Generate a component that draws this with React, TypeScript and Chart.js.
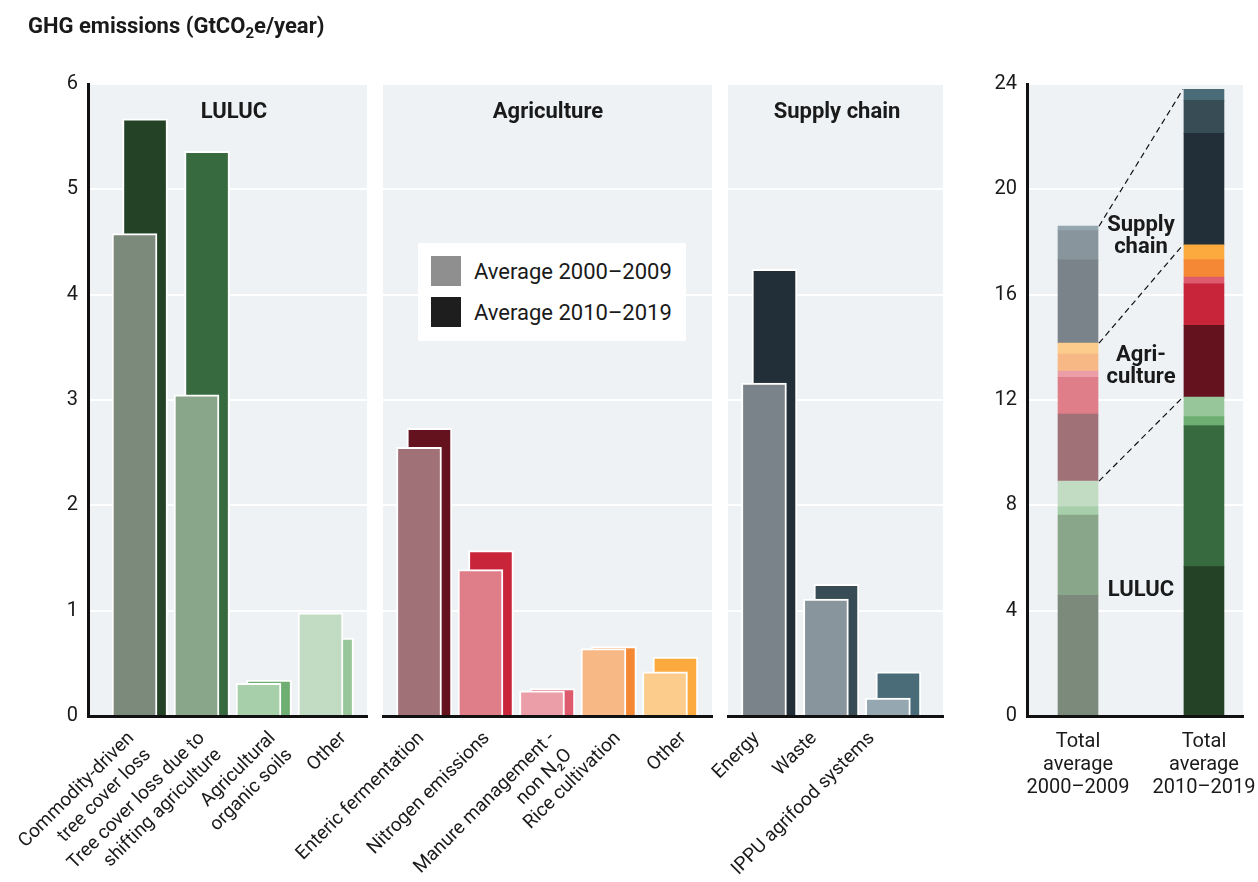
import React, { useEffect, useRef } from 'react';
import { Chart, registerables } from 'chart.js';

Chart.register(...registerables);

const FONT = "Roboto, 'Noto Sans', 'DejaVu Sans', sans-serif";
const INK = '#1a1a1a';
const PANEL_BG = '#eef2f5';

// ---------- data ----------
const lulucLabels: (string | string[])[] = [
  ['Commodity-driven', 'tree cover loss'],
  ['Tree cover loss due to', 'shifting agriculture'],
  ['Agricultural', 'organic soils'],
  'Other',
];
const luluc2000 = [4.58, 3.05, 0.31, 0.98];
const luluc2010 = [5.67, 5.36, 0.34, 0.74];

const agriLabels: (string | string[])[] = [
  'Enteric fermentation',
  'Nitrogen emissions',
  ['Manure management -', 'non N₂O'],
  'Rice cultivation',
  'Other',
];
const agri2000 = [2.55, 1.39, 0.24, 0.64, 0.42];
const agri2010 = [2.73, 1.57, 0.26, 0.66, 0.56];

const supplyLabels: (string | string[])[] = ['Energy', 'Waste', 'IPPU agrifood systems'];
const supply2000 = [3.16, 1.11, 0.17];
const supply2010 = [4.24, 1.25, 0.42];

const totalLabels: string[][] = [
  ['Total', 'average', '2000–2009'],
  ['Total', 'average', '2010–2019'],
];

const panelTitles = ['LULUC', 'Agriculture', 'Supply chain'];
const legendLabels = ['Average 2000–2009', 'Average 2010–2019'];

// ---------- colours ----------
const lulucLight = ['#7c8a7b', '#89a68a', '#a7cfa9', '#c1dcc3'];
const lulucDark = ['#244226', '#386a40', '#6eae72', '#96c69a'];
const agriLight = ['#a07278', '#df7d89', '#eb9ea7', '#f8b886', '#fccc8c'];
const agriDark = ['#65121f', '#c8243a', '#de5b6e', '#f48834', '#fca93e'];
const supplyLight = ['#7b838a', '#89959c', '#95a8b1'];
const supplyDark = ['#232f38', '#384c55', '#4a6b78'];

// ---------- layout ----------
const W = 1258;
const H = 882;
const PLOT_TOP = 84;
const AXIS_H = 166;
const DARK_SHIFT = 0.17;

type PanelSpec = {
  labels: (string | string[])[];
  v2000: number[];
  v2010: number[];
  light: string[];
  dark: string[];
  left: number;
  right: number;
  xMin: number;
  xMax: number;
  labelStart: number;
  labelStep: number;
  showY: boolean;
};

const panelBg = {
  id: 'panelBg',
  beforeDraw(chart: any) {
    const { ctx, chartArea: a } = chart;
    ctx.save();
    ctx.fillStyle = PANEL_BG;
    ctx.fillRect(a.left, a.top, a.right - a.left, a.bottom - a.top);
    ctx.restore();
  },
};

function panelConfig(p: PanelSpec): any {
  return {
    type: 'bar',
    data: {
      datasets: [
        {
          label: legendLabels[0],
          data: p.v2000.map((y, i) => ({ x: i, y })),
          backgroundColor: p.light,
          borderColor: '#ffffff',
          borderWidth: 2,
          barThickness: 45,
          grouped: false,
        },
        {
          label: legendLabels[1],
          data: p.v2010.map((y, i) => ({ x: i + DARK_SHIFT, y })),
          backgroundColor: p.dark,
          borderColor: '#ffffff',
          borderWidth: 2,
          barThickness: 45,
          grouped: false,
        },
      ],
    },
    options: {
      responsive: false,
      animation: false,
      devicePixelRatio: 1,
      layout: {
        padding: { left: p.showY ? 0 : p.left, right: W - p.right, top: PLOT_TOP, bottom: 0 },
      },
      plugins: { legend: { display: false }, tooltip: { enabled: false } },
      scales: {
        x: {
          type: 'linear',
          min: p.xMin,
          max: p.xMax,
          offset: false,
          grid: { display: false },
          border: { display: true, color: '#111111', width: 3, z: 1 },
          afterBuildTicks: (s: any) => {
            s.ticks = p.labels.map((_, i) => ({ value: p.labelStart + i * p.labelStep }));
          },
          afterFit: (s: any) => {
            s.height = AXIS_H;
            s.paddingLeft = 0;
            s.paddingRight = 0;
          },
          ticks: {
            autoSkip: false,
            maxRotation: 45,
            minRotation: 45,
            padding: 3,
            font: { family: FONT, size: 19, lineHeight: 1.25 },
            color: INK,
            callback: (_v: any, i: number) => p.labels[i],
          },
        },
        y: {
          min: 0,
          max: 6,
          ticks: {
            display: p.showY,
            stepSize: 1,
            padding: 10,
            font: { family: FONT, size: 20 },
            color: INK,
          },
          grid: { color: '#ffffff', lineWidth: 2, drawTicks: false },
          border: { display: p.showY, color: '#111111', width: 3, z: 1 },
          afterFit: (s: any) => {
            s.width = p.showY ? p.left : 0;
            s.paddingTop = 0;
            s.paddingBottom = 0;
          },
        },
      },
    },
    plugins: [panelBg],
  };
}

const allLight = [...lulucLight, ...agriLight, ...supplyLight];
const allDark = [...lulucDark, ...agriDark, ...supplyDark];
const all2000 = [...luluc2000, ...agri2000, ...supply2000];
const all2010 = [...luluc2010, ...agri2010, ...supply2010];
const groupEnds = [
  lulucLabels.length - 1,
  lulucLabels.length + agriLabels.length - 1,
  lulucLabels.length + agriLabels.length + supplyLabels.length - 1,
];

const connectors = {
  id: 'connectors',
  afterDatasetsDraw(chart: any) {
    const ctx = chart.ctx;
    ctx.save();
    ctx.setLineDash([6, 4]);
    ctx.lineWidth = 1.2;
    ctx.strokeStyle = '#111111';
    for (const k of groupEnds) {
      const meta = chart.getDatasetMeta(k);
      const a = meta.data[0].getProps(['x', 'y', 'width'], true);
      const b = meta.data[1].getProps(['x', 'y', 'width'], true);
      ctx.beginPath();
      ctx.moveTo(a.x + a.width / 2 + 1, a.y);
      ctx.lineTo(b.x - b.width / 2 - 1, b.y);
      ctx.stroke();
    }
    ctx.restore();
  },
};

function totalsConfig(): any {
  return {
    type: 'bar',
    data: {
      datasets: all2000.map((v, k) => ({
        label: String(k),
        data: [
          { x: 0, y: v },
          { x: 1, y: all2010[k] },
        ],
        backgroundColor: [allLight[k], allDark[k]],
        borderWidth: 0,
        barThickness: 40,
      })),
    },
    options: {
      responsive: false,
      animation: false,
      devicePixelRatio: 1,
      layout: { padding: { left: 960, right: W - 1243, top: PLOT_TOP, bottom: 0 } },
      plugins: { legend: { display: false }, tooltip: { enabled: false } },
      scales: {
        x: {
          type: 'linear',
          stacked: true,
          min: -0.405,
          max: 1.31,
          offset: false,
          grid: { display: false },
          border: { display: true, color: '#111111', width: 3, z: 1 },
          afterBuildTicks: (s: any) => {
            s.ticks = totalLabels.map((_, i) => ({ value: i }));
          },
          afterFit: (s: any) => {
            s.height = AXIS_H;
            s.paddingLeft = 0;
            s.paddingRight = 0;
          },
          ticks: {
            autoSkip: false,
            maxRotation: 0,
            minRotation: 0,
            padding: 6,
            font: { family: FONT, size: 20, lineHeight: 1.15 },
            color: INK,
            callback: (_v: any, i: number) => totalLabels[i],
          },
        },
        y: {
          stacked: true,
          min: 0,
          max: 24,
          ticks: { stepSize: 4, padding: 10, font: { family: FONT, size: 20 }, color: INK },
          grid: { color: '#ffffff', lineWidth: 2, drawTicks: false },
          border: { display: true, color: '#111111', width: 3, z: 1 },
          afterFit: (s: any) => {
            s.width = 67;
            s.paddingTop = 0;
            s.paddingBottom = 0;
          },
        },
      },
    },
    plugins: [panelBg, connectors],
  };
}

const panels: PanelSpec[] = [
  {
    labels: lulucLabels, v2000: luluc2000, v2010: luluc2010, light: lulucLight, dark: lulucDark,
    left: 88, right: 367, xMin: -0.75, xMax: 3.75, labelStart: -0.05, labelStep: 1.14, showY: true,
  },
  {
    labels: agriLabels, v2000: agri2000, v2010: agri2010, light: agriLight, dark: agriDark,
    left: 383, right: 712, xMin: -0.585, xMax: 4.765, labelStart: 0.04, labelStep: 1.065, showY: false,
  },
  {
    labels: supplyLabels, v2000: supply2000, v2010: supply2010, light: supplyLight, dark: supplyDark,
    left: 728, right: 943, xMin: -0.58, xMax: 2.89, labelStart: -0.12, labelStep: 0.93, showY: false,
  },
];

const canvasStyle: React.CSSProperties = { position: 'absolute', left: 0, top: 0 };

export default function App() {
  const r0 = useRef<HTMLCanvasElement>(null);
  const r1 = useRef<HTMLCanvasElement>(null);
  const r2 = useRef<HTMLCanvasElement>(null);
  const r3 = useRef<HTMLCanvasElement>(null);

  useEffect(() => {
    const charts: Chart[] = [];
    [r0, r1, r2].forEach((r, i) => {
      if (r.current) charts.push(new Chart(r.current, panelConfig(panels[i])));
    });
    if (r3.current) charts.push(new Chart(r3.current, totalsConfig()));
    return () => charts.forEach((c) => c.destroy());
  }, []);

  const txt: React.CSSProperties = { position: 'absolute', color: INK, whiteSpace: 'nowrap' };
  const titleCenters = [234, 548, 837];

  return (
    <div style={{ position: 'fixed', left: 0, top: 0, width: W, height: H, background: '#ffffff', fontFamily: FONT, overflow: 'hidden' }}>
      <canvas ref={r0} width={W} height={H} style={canvasStyle} />
      <canvas ref={r1} width={W} height={H} style={canvasStyle} />
      <canvas ref={r2} width={W} height={H} style={canvasStyle} />
      <canvas ref={r3} width={W} height={H} style={canvasStyle} />

      <div style={{ ...txt, left: 28, top: 12.5, fontSize: 22, lineHeight: '26px', fontWeight: 700 }}>
        GHG emissions (GtCO<sub style={{ fontSize: 15, lineHeight: 0, verticalAlign: '-0.3em' }}>2</sub>e/year)
      </div>

      {panelTitles.map((t, i) => (
        <div key={t} style={{ ...txt, left: titleCenters[i], top: 97.5, transform: 'translateX(-50%)', fontSize: 22, lineHeight: '26px', fontWeight: 700 }}>
          {t}
        </div>
      ))}

      <div style={{ position: 'absolute', left: 418, top: 243, width: 268, height: 98, background: '#ffffff' }}>
        {legendLabels.map((t, i) => (
          <div key={t} style={{ position: 'absolute', left: 13, top: 13 + i * 41, height: 30, display: 'flex', alignItems: 'center' }}>
            <div style={{ width: 30, height: 30, background: i === 0 ? '#8f8f8f' : '#1e1e1e' }} />
            <div style={{ marginLeft: 13, fontSize: 22, color: INK, whiteSpace: 'nowrap' }}>{t}</div>
          </div>
        ))}
      </div>

      <div style={{ ...txt, left: 1141, top: 212.75, transform: 'translateX(-50%)', fontSize: 22, lineHeight: '22.5px', fontWeight: 700, textAlign: 'center' }}>
        Supply<br />chain
      </div>
      <div style={{ ...txt, left: 1141, top: 342.75, transform: 'translateX(-50%)', fontSize: 22, lineHeight: '22.5px', fontWeight: 700, textAlign: 'center' }}>
        Agri-<br />culture
      </div>
      <div style={{ ...txt, left: 1141, top: 577.75, transform: 'translateX(-50%)', fontSize: 22, lineHeight: '22.5px', fontWeight: 700, textAlign: 'center' }}>
        LULUC
      </div>
    </div>
  );
}
